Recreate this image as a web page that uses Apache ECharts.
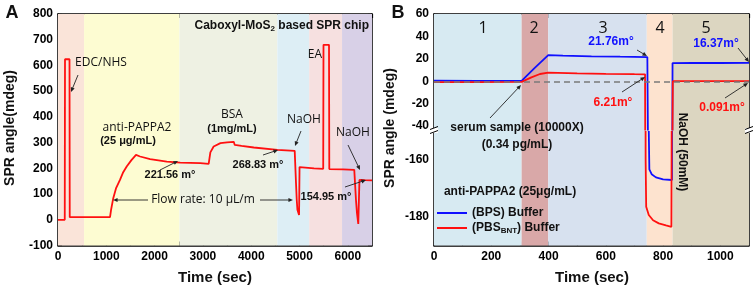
<!DOCTYPE html>
<html>
<head>
<meta charset="utf-8">
<script src="https://cdn.jsdelivr.net/npm/echarts@6/dist/echarts.min.js"></script>
<style>
html, body { margin: 0; padding: 0; background: #fff; }
#chart { width: 753px; height: 289px; }
</style>
</head>
<body>
<div id="chart"></div>
<script>
// panel A: chip fabrication sensorgram (time in sec, angle in mdeg)
const timeA = [0, 140, 145, 238, 243, 1077, 1100, 1144, 1200, 1283, 1350, 1422, 1520, 1615, 1699, 1906, 2252, 2530, 2946, 3119,
  3139, 3154, 3222, 3362, 3500, 3638, 3650, 3659, 3800, 4054, 4540, 4900, 4921, 4927, 4942, 4956, 4990, 4995, 5000, 5300,
  5490, 5496, 5610, 5616, 5900, 6133, 6145, 6168, 6189, 6216, 6234, 6240, 6350, 6500]
const angleA = [0, 0, 624, 624, 10, 10, 40, 84, 122, 155, 185, 207, 232, 252, 246, 236, 226, 222, 220, 217,
  220, 262, 285, 298, 301, 303, 298, 291, 287, 281, 272, 268, 265, 142, 78, 39, 19, 19, 205, 200,
  198, 680, 680, 197, 196, 194, 190, 78, 26, -16, -16, 155, 154, 153]
const stageEdgesA = [0, 540, 2515, 4540, 5200, 5880, 6500]

// panel B: serum sample detection
const timeBps = [0, 150, 306, 350, 399, 450, 550, 650, 745, 748, 750, 752, 760, 775, 800, 831, 833, 900, 1000, 1100]
const bpsAngle = [0.5, 0.4, 0.3, 11.5, 23.4, 22.8, 22.3, 21.9, 21.6, 21.5, -150, -163.5, -165.2, -166.3, -167, -167.2, 16.2, 16.3, 16.3, 16.4]
const timePbs = [0, 150, 306, 340, 370, 399, 500, 600, 700, 737, 739, 741, 750, 765, 785, 810, 829, 832, 834, 900, 1000, 1100]
const pbsAngle = [-0.8, -0.7, -0.5, 3.5, 6.5, 7.7, 7.0, 6.6, 6.3, 6.2, -160, -176.5, -179.4, -181.2, -182.3, -183, -183.5, -183.5, 0.1, 0.1, 0.1, 0.1]
const stageEdgesB = [0, 306, 399, 743, 833, 1100]
const stageNames = ['1', '2', '3', '4', '5']
const yLabelsUpper = [60, 40, 20, 0, -20, -40]
const yTicksUpper = [60, 50, 40, 30, 20, 10, 0, -10, -20, -30, -40]
const yLabelsLower = [-160, -180]
const yTicksLower = [-160, -170, -180]

const bandColorsA = ['#fae4d9', '#fdfcd2', '#eef1e3', '#ddeef5', '#f6e0e0', '#d8d0e7']
const bandColorsB = ['#d7eaf2', '#d9a8a8', '#d7e1ef', '#fde3cf', '#dcd6c1']

const zip = (xs, ys) => xs.map((x, i) => [x, ys[i]])
const bands = (edges, colors) => colors.map((c, i) => [
  { xAxis: edges[i], itemStyle: { color: c } },
  { xAxis: edges[i + 1] }
])

const chart = echarts.init(document.getElementById('chart'))

const BOLD = 'bold 12px "Liberation Sans", Arial, sans-serif'
const BOLD11 = 'bold 11px "Liberation Sans", Arial, sans-serif'
const NORMAL = '12px "Open Sans", sans-serif'
const axisLine = { show: true, onZero: false, lineStyle: { color: '#000', width: 1.5 } }
const tick = { show: true, inside: true, length: 4, lineStyle: { color: '#000', width: 1.2 } }
const minor = { show: true, splitNumber: 2, length: 3, lineStyle: { color: '#000', width: 1.2 } }
const label = { color: '#000', fontFamily: 'Liberation Sans', fontWeight: 'bold', fontSize: 12, margin: 5 }
const noLabel = { show: false }
const noSplit = { show: false }

function xAxisOf (grid, pos, max, step, showLabel) {
  return {
    type: 'value', gridIndex: grid, position: pos, min: 0, max: max, interval: step,
    axisLine: axisLine, axisTick: tick, splitLine: noSplit,
    axisLabel: showLabel ? Object.assign({}, label, { formatter: v => (v % (step * 2) === 0 ? v : ''), showMaxLabel: false }) : noLabel
  }
}

function yAxisOf (grid, pos, min, max, ticks, labels) {
  return {
    type: 'value', gridIndex: grid, position: pos, min: min, max: max,
    axisLine: axisLine, axisTick: Object.assign({}, tick, { customValues: ticks }),
    axisLabel: labels ? Object.assign({}, label, { customValues: labels }) : noLabel, splitLine: noSplit
  }
}

function txt (x, y, text, opt) {
  opt = opt || {}
  return {
    type: 'text', x: x, y: y, rotation: opt.rot || 0, z: 100,
    style: {
      text: text, fill: opt.color || '#111', font: opt.font || BOLD,
      align: opt.align || 'center', verticalAlign: 'middle',
      textAlign: opt.align || 'center', textVerticalAlign: 'middle', rich: opt.rich
    }
  }
}

const notes = []
function arrow (x1, y1, x2, y2) {
  const a = Math.atan2(y2 - y1, x2 - x1)
  const L = 5
  const w = 0.42
  notes.push({ type: 'line', z: 100, shape: { x1: x1, y1: y1, x2: x2 - 3 * Math.cos(a), y2: y2 - 3 * Math.sin(a) }, style: { stroke: '#222', lineWidth: 0.9 } })
  notes.push({
    type: 'polygon', z: 100,
    shape: { points: [[x2, y2], [x2 - L * Math.cos(a - w), y2 - L * Math.sin(a - w)], [x2 - L * Math.cos(a + w), y2 - L * Math.sin(a + w)]] },
    style: { fill: '#222' }
  })
}

function breakMark (x, y) {
  notes.push({ type: 'rect', z: 100, shape: { x: x - 4, y: y - 2.5, width: 8, height: 5 }, style: { fill: '#fff' } })
  notes.push({ type: 'line', z: 101, shape: { x1: x - 4, y1: y - 1, x2: x + 4, y2: y - 4 }, style: { stroke: '#000', lineWidth: 1 } })
  notes.push({ type: 'line', z: 101, shape: { x1: x - 4, y1: y + 3, x2: x + 4, y2: y }, style: { stroke: '#000', lineWidth: 1 } })
}

const sub = {
  b: { font: BOLD, fill: '#111', color: '#111' },
  s: { fontFamily: 'Liberation Sans', fontWeight: 'bold', fontSize: 8, color: '#111', fill: '#111', padding: [6, 0, 0, 0] }
}

notes.push(
  // panel letters and axis titles
  txt(12, 13, 'A', { font: 'bold 18px "Liberation Sans", Arial' }),
  txt(398, 13, 'B', { font: 'bold 18px "Liberation Sans", Arial' }),
  txt(10, 128, 'SPR angle(mdeg)', { font: 'bold 14px "Liberation Sans", Arial', rot: Math.PI / 2 }),
  txt(390, 128, 'SPR angle (mdeg)', { font: 'bold 14px "Liberation Sans", Arial', rot: Math.PI / 2 }),
  txt(215, 278, 'Time (sec)', { font: 'bold 15px "Liberation Sans", Arial' }),
  txt(592, 278, 'Time (sec)', { font: 'bold 15px "Liberation Sans", Arial' }),

  // panel A notes
  txt(369, 26, '{b|Caboxyl-MoS}{s|2}{b| based SPR chip}', { align: 'right', rich: sub }),
  txt(101, 63, 'EDC/NHS', { font: NORMAL }),
  txt(137, 128, 'anti-PAPPA2', { font: NORMAL }),
  txt(128, 141, '(25 μg/mL)', { font: BOLD11 }),
  txt(232, 115, 'BSA', { font: NORMAL }),
  txt(232, 129, '(1mg/mL)', { font: BOLD11 }),
  txt(304, 120, 'NaOH', { font: NORMAL }),
  txt(315, 55, 'EA', { font: NORMAL }),
  txt(353, 133, 'NaOH', { font: NORMAL }),
  txt(170, 175, '221.56 m°', { font: BOLD11 }),
  txt(258, 165, '268.83 m°', { font: BOLD11 }),
  txt(326, 197, '154.95 m°', { font: BOLD11 }),
  txt(203, 200, 'Flow rate: 10 μL/m', { font: NORMAL }),

  // panel B notes
  txt(483, 28, stageNames[0], { font: '16px "Open Sans", sans-serif' }),
  txt(534, 28, stageNames[1], { font: '16px "Open Sans", sans-serif' }),
  txt(603, 28, stageNames[2], { font: '16px "Open Sans", sans-serif' }),
  txt(660, 28, stageNames[3], { font: '16px "Open Sans", sans-serif' }),
  txt(706, 28, stageNames[4], { font: '16px "Open Sans", sans-serif' }),
  txt(611, 42, '21.76m°', { color: '#1010ff' }),
  txt(613, 103, '6.21m°', { color: '#ff1010' }),
  txt(716, 44, '16.37m°', { color: '#1010ff' }),
  txt(722, 108, '0.091m°', { color: '#ff1010' }),
  txt(517, 128, 'serum sample (10000X)'),
  txt(517, 145, '(0.34 pg/mL)'),
  txt(682, 152, 'NaOH (50mM)', { rot: -Math.PI / 2 }),
  txt(510, 192, 'anti-PAPPA2 (25μg/mL)')
)

arrow(78, 75, 71, 92)
arrow(301, 131, 295, 146)
arrow(348, 145, 360, 170)
arrow(160, 170, 178, 161)
arrow(263, 155, 278, 150)
arrow(345, 187, 366, 180)
arrow(148, 200, 113, 200)
arrow(260, 200, 293, 200)
arrow(637, 50, 647, 56)
arrow(622, 92, 645, 77)
arrow(738, 48, 749, 62)
arrow(725, 98, 748, 83)
arrow(490, 118, 521, 85)
breakMark(434, 130.5)
breakMark(749, 130.5)

const option = {
  animation: false,
  grid: [
    { left: 58, top: 14, width: 314, height: 231.5 },
    { left: 434, top: 14, width: 315, height: 115.5 },
    { left: 434, top: 132, width: 315, height: 113.5 },
    { left: 434, top: 14, width: 315, height: 231.5 }
  ],
  xAxis: [
    xAxisOf(0, 'bottom', 6500, 500, true),
    xAxisOf(0, 'top', 6500, 500, false),
    xAxisOf(1, 'top', 1100, 100, false),
    xAxisOf(2, 'bottom', 1100, 100, true),
    { type: 'value', gridIndex: 3, min: 0, max: 1100, show: false }
  ],
  yAxis: [
    {
      type: 'value', gridIndex: 0, position: 'left', min: -100, max: 800, interval: 100,
      axisLine: axisLine, axisTick: tick, minorTick: minor, axisLabel: label, splitLine: noSplit
    },
    {
      type: 'value', gridIndex: 0, position: 'right', min: -100, max: 800, interval: 100,
      axisLine: axisLine, axisTick: tick, minorTick: minor, axisLabel: noLabel, splitLine: noSplit
    },
    yAxisOf(1, 'left', -43, 60, yTicksUpper, yLabelsUpper),
    yAxisOf(1, 'right', -43, 60, yTicksUpper, null),
    yAxisOf(2, 'left', -190, -150.5, yTicksLower, yLabelsLower),
    yAxisOf(2, 'right', -190, -150.5, yTicksLower, null),
    { type: 'value', gridIndex: 3, min: 0, max: 1, show: false }
  ],
  legend: {
    data: ['BPS', 'PBS'], orient: 'vertical', left: 437, top: 207, itemWidth: 30, itemHeight: 2, itemGap: 3,
    icon: 'rect', padding: 0, selectedMode: false,
    formatter: n => (n === 'BPS' ? '{b|(BPS) Buffer}' : '{b|(PBS}{s|BNT}{b|) Buffer}'),
    textStyle: {
      rich: {
        b: { fontFamily: 'Liberation Sans', fontWeight: 'bold', fontSize: 12, color: '#111', lineHeight: 14 },
        s: { fontFamily: 'Liberation Sans', fontWeight: 'bold', fontSize: 8, color: '#111', padding: [6, 0, 0, 0] }
      }
    }
  },
  series: [
    { type: 'line', xAxisIndex: 0, yAxisIndex: 0, data: [], silent: true, z: 0, markArea: { silent: true, data: bands(stageEdgesA, bandColorsA) } },
    { type: 'line', xAxisIndex: 4, yAxisIndex: 6, data: [], silent: true, z: 0, markArea: { silent: true, data: bands(stageEdgesB, bandColorsB) } },
    {
      name: 'A', type: 'line', xAxisIndex: 0, yAxisIndex: 0, data: zip(timeA, angleA),
      symbol: 'none', lineStyle: { color: '#ff1010', width: 1.8 }, z: 3
    },
    {
      name: 'BPS', type: 'line', xAxisIndex: 2, yAxisIndex: 2, data: zip(timeBps, bpsAngle),
      symbol: 'none', color: '#1010ff', lineStyle: { color: '#1010ff', width: 1.8 }, z: 3
    },
    {
      name: 'PBS', type: 'line', xAxisIndex: 2, yAxisIndex: 2, data: zip(timePbs, pbsAngle),
      symbol: 'none', color: '#ff1010', lineStyle: { color: '#ff1010', width: 1.8 }, z: 3
    },
    {
      name: 'BPS', type: 'line', xAxisIndex: 3, yAxisIndex: 4, data: zip(timeBps, bpsAngle),
      symbol: 'none', color: '#1010ff', lineStyle: { color: '#1010ff', width: 1.8 }, z: 3
    },
    {
      name: 'PBS', type: 'line', xAxisIndex: 3, yAxisIndex: 4, data: zip(timePbs, pbsAngle),
      symbol: 'none', color: '#ff1010', lineStyle: { color: '#ff1010', width: 1.8 }, z: 3
    },
    {
      type: 'line', xAxisIndex: 2, yAxisIndex: 2, data: [], silent: true, z: 5,
      markLine: {
        silent: true, symbol: 'none', label: { show: false },
        lineStyle: { color: '#7a7a7a', type: [6, 4], width: 1.5 },
        data: [{ yAxis: 0 }]
      }
    }
  ],
  graphic: notes
}

chart.setOption(option)
</script>
</body>
</html>
